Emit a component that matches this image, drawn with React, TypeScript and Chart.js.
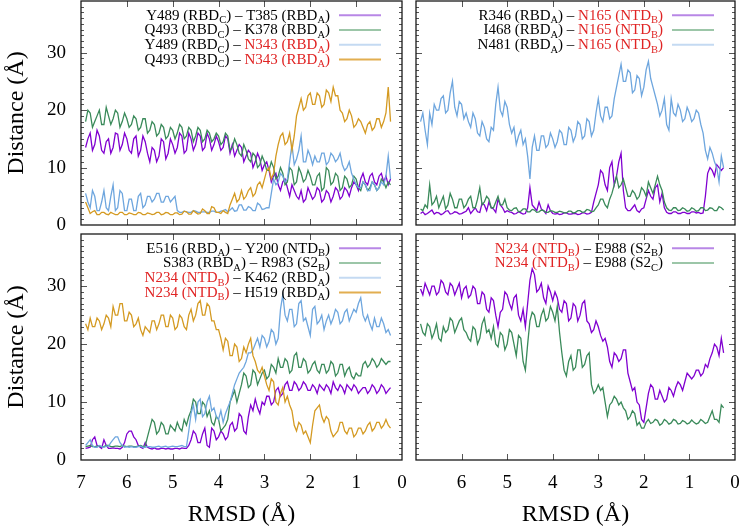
import React, { useEffect, useRef } from "react";
import { Chart, registerables } from "chart.js";
Chart.register(...registerables);

const SERIF = "'Liberation Serif', 'DejaVu Serif', serif";

// RMSD sample positions (Å)
const RMSD = [
  6.9, 6.85, 6.8, 6.75, 6.7, 6.65, 6.6, 6.55, 6.5, 6.45, 6.4, 6.35, 6.3, 6.25, 6.2, 6.15, 6.1, 6.05, 6.0, 5.95,
  5.9, 5.85, 5.8, 5.75, 5.7, 5.65, 5.6, 5.55, 5.5, 5.45, 5.4, 5.35, 5.3, 5.25, 5.2, 5.15, 5.1, 5.05, 5.0, 4.95,
  4.9, 4.85, 4.8, 4.75, 4.7, 4.65, 4.6, 4.55, 4.5, 4.45, 4.4, 4.35, 4.3, 4.25, 4.2, 4.15, 4.1, 4.05, 4.0, 3.95,
  3.9, 3.85, 3.8, 3.75, 3.7, 3.65, 3.6, 3.55, 3.5, 3.45, 3.4, 3.35, 3.3, 3.25, 3.2, 3.15, 3.1, 3.05, 3.0, 2.95,
  2.9, 2.85, 2.8, 2.75, 2.7, 2.65, 2.6, 2.55, 2.5, 2.45, 2.4, 2.35, 2.3, 2.25, 2.2, 2.15, 2.1, 2.05, 2.0, 1.95,
  1.9, 1.85, 1.8, 1.75, 1.7, 1.65, 1.6, 1.55, 1.5, 1.45, 1.4, 1.35, 1.3, 1.25, 1.2, 1.15, 1.1, 1.05, 1.0, 0.95,
  0.9, 0.85, 0.8, 0.75, 0.7, 0.65, 0.6, 0.55, 0.5, 0.45, 0.4, 0.35, 0.3, 0.25,
];

// Panel 1 (top-left)
const Y489_T385 = [
  13.5, 15, 16, 13, 14, 16.5, 15.5, 13, 12.5, 14.5, 15, 12.5, 13.5, 16, 15.8, 13, 14, 16, 15, 13,
  12.5, 15, 15.5, 12, 13, 15.5, 14.5, 12.5, 11, 13.5, 13, 11, 12, 15, 14.5, 11.5, 12.5, 15, 14, 12.5,
  13.5, 16, 15.5, 12.5, 13, 16, 15, 13, 14, 16, 15.5, 13, 13.5, 16, 15, 13, 14, 15.5, 14.5, 13,
  13.5, 15.5, 15, 12.5, 14, 12, 13, 14, 13.5, 11, 12, 13, 12.5, 10, 11, 12.5, 11.5, 9.5, 10.5, 11,
  9.5, 7.5, 8.5, 9, 7, 6, 7.5, 8, 6.5, 5, 7, 6, 5, 4.5, 6, 4, 4.5, 6.5, 5.5, 4.5,
  5, 6.5, 6, 4, 4.5, 6, 5.5, 4, 5, 6.5, 6, 4.5, 5, 6.5, 6, 5, 6.5, 7.5, 7, 6,
  8, 9, 7.5, 7, 8.5, 9, 7.5, 7, 8.5, 9, 7.5, 8.5, 7, 8,
];
const Q493_K378 = [
  18, 20, 19.5, 17, 18, 19, 20, 17.5, 17.5, 20.5, 19, 17.5, 18.5, 20, 19.5, 17, 18, 19.5, 18.5, 17,
  17.5, 19, 18.5, 16.5, 17, 18.5, 18.5, 16, 16.5, 18, 17.5, 15.5, 16, 17.5, 17, 15, 15.5, 17, 16.5, 15,
  16, 17.5, 17, 15, 15.5, 17, 16.5, 14.5, 15.5, 17, 16.5, 14.5, 15, 16.5, 16, 14.5, 15, 16, 15.5, 14,
  14.5, 16, 15.5, 13, 13.5, 15, 14, 12.5, 12, 14, 13, 11.5, 11, 12.5, 12, 10, 10.5, 12, 11, 9.5,
  9.5, 11, 10, 8, 8.5, 10, 9, 7, 7.5, 10, 9.5, 7, 7.5, 10, 9, 7.5, 8, 9.5, 8.5, 7,
  7, 8.5, 9, 6, 6.5, 10, 9.5, 7, 7.5, 9, 8.5, 6, 6.5, 8.5, 8, 6.5, 7, 8.5, 8, 6.5,
  6, 7.5, 7, 6, 6.5, 7.5, 7, 6, 6.5, 8, 7.5, 6.5, 7.5, 7,
];
const Y489_N343 = [
  5.5, 4, 3, 6, 5, 2.5, 2.5, 4, 6, 3, 2.5, 5, 7, 2.5, 3, 6, 5.5, 2.5, 2.5, 4.5,
  4.5, 2.5, 2.5, 5, 5.5, 3, 3.5, 5, 5, 4, 4.5, 5.5, 5.5, 4, 4, 5, 5, 4, 4.5, 5,
  2.5, 2.2, 2.2, 2.4, 2.3, 2.2, 2.2, 2.5, 2.4, 2.2, 2.2, 2.3, 2.3, 2.2, 2.2, 2.4, 2.4, 2.2, 2.2, 2.4,
  2.5, 2.7, 2.3, 2.6, 3, 2.4, 2.5, 3.5, 3.5, 2.6, 2.6, 3.2, 3, 2.5, 2.5, 3.8, 3.5, 2.7, 2.8, 3,
  3, 5.5, 8, 7, 7.5, 9, 8.5, 7.5, 8, 11, 14, 10.5, 11.5, 13, 15.5, 11, 11, 13, 12, 10.5,
  12, 11, 11, 12.5, 12.5, 10.5, 11, 12.5, 12, 11, 11.5, 12.5, 10.5, 9.5, 10, 11, 9, 8, 7, 6.5,
  6.5, 7.5, 7, 6, 6, 7.5, 7, 6, 6.5, 7.5, 7, 8.5, 12, 8,
];
const Q493_N343 = [
  4, 3, 2, 2.3, 2.5, 1.8, 1.8, 2.2, 2.2, 1.9, 1.8, 2.2, 2, 1.8, 1.8, 2.2, 2.2, 1.8, 1.8, 2.1,
  2, 1.8, 1.8, 2.2, 2.1, 1.8, 1.8, 2.1, 2, 1.8, 1.9, 2.2, 2.2, 1.8, 1.9, 2.2, 2.1, 1.8, 1.8, 2.1,
  2.1, 1.8, 1.9, 2.4, 2.3, 1.9, 1.9, 2.5, 2.2, 1.9, 2, 2.8, 2.5, 2, 2, 3.2, 3, 2.2, 2.2, 2,
  2.5, 2.2, 2, 3.5, 4.5, 5.5, 4, 4.5, 6, 4.5, 5, 6, 6.5, 5, 5.5, 7, 7.5, 6.5, 8, 9.5,
  10, 8, 9, 12, 14, 15.5, 16, 14, 14.5, 16, 13, 15.5, 19, 20.5, 22, 20, 20.5, 22.5, 23, 21,
  21, 23, 22.5, 20.5, 21, 23.5, 23, 21.5, 24, 22.5, 22.5, 20, 19.5, 18, 18.5, 20, 19, 17, 17.5, 18.5,
  18, 17, 16, 17.5, 18, 16.5, 17, 18.5, 18.5, 17, 18, 19.5, 24, 18,
];

// Panel 2 (top-right)
const R346_N165 = [
  2, 2.3, 1.8, 2, 2.3, 2.6, 1.9, 2.2, 2.1, 1.8, 2, 2.4, 2.5, 1.9, 2, 2.3, 2.2, 1.9, 2, 2.2,
  2.4, 3, 2, 2.5, 3, 2.3, 2.2, 3.8, 3.5, 2.5, 4, 3, 2.8, 2.2, 4.5, 3.5, 3, 2.2, 2.5, 2.3,
  2.2, 1.9, 2, 2.3, 2.1, 1.9, 2, 3, 6.5, 3.5, 3, 2.5, 4, 2.8, 2.5, 2, 3.5, 2.5, 2, 1.9,
  2, 1.8, 1.9, 2.1, 2.1, 1.9, 1.9, 2, 2, 1.8, 1.9, 2.1, 2.1, 1.9, 2, 2.2, 4, 5.5, 7, 9.5,
  9, 7, 6, 10, 11, 7, 8.5, 11, 12.5, 6, 3, 2.5, 2.5, 3, 3.5, 2.5, 2.2, 2.8, 3, 4.5,
  6, 5, 4.5, 6.5, 7, 4, 5.5, 3, 2.2, 2, 2, 2.3, 2.3, 2, 2, 2.2, 2.2, 2, 2, 2.3,
  2.3, 2.1, 2.2, 2, 2.1, 5, 9, 10, 9.5, 8.5, 10.5, 10, 9.5, 10,
];
const I468_N165 = [
  2.8, 2.5, 3.5, 3, 7, 3.5, 4, 5, 3, 4, 5, 2.8, 3.5, 5.5, 4.5, 3, 3, 4.5, 4.5, 3,
  3.5, 4.5, 5, 3, 3, 4.5, 6.5, 3.5, 4, 5, 4.5, 3, 3, 4, 5, 3.5, 3.5, 4.5, 3, 2.6,
  2.5, 2.9, 3, 2.3, 2.4, 2.8, 2.8, 2.3, 2.3, 2.7, 2.6, 2.2, 2.3, 2.6, 2.5, 2.2, 2.2, 2.5, 2.4, 2.2,
  2.2, 2.4, 2.3, 2.1, 2.1, 2.4, 2.4, 2.1, 2.2, 2.5, 2.5, 2.2, 2.3, 2.7, 2.6, 2.3, 2.4, 3, 3.5, 4.5,
  4.5, 3.5, 3, 4.5, 5.5, 7, 8.5, 6.5, 7, 8, 6.5, 5, 5, 6, 5.5, 4.5, 5, 6.5, 6, 5,
  7.5, 6.5, 5.5, 7, 8.5, 7, 6, 4, 3, 2.6, 2.5, 3, 3, 2.5, 2.6, 3, 2.8, 2.4, 2.5, 3,
  2.8, 2.4, 2.5, 3, 3, 2.5, 2.6, 3, 2.9, 2.5, 2.5, 3.2, 3, 2.6,
];
const N481_N165 = [
  18, 19.5, 16.5, 14, 19.5, 17.5, 21, 20, 20, 22, 22.5, 19.5, 20, 23, 25, 20.5, 19, 21.5, 21, 18.5,
  19.5, 18, 17, 19.5, 18.5, 16, 15.5, 18, 17, 15, 14.5, 17, 16.5, 21, 24, 20, 19, 21.5, 20.5, 17.5,
  16, 17, 14, 15.5, 16.5, 14, 15, 12, 8, 13.5, 15.5, 13, 13, 15.5, 15.5, 13.5, 14, 16, 15, 13.5,
  14.5, 16.5, 16, 14, 14, 17, 16.5, 14.5, 15.5, 18, 17.5, 15, 15.5, 18.5, 18, 15.5, 16.5, 19.5, 22, 19,
  18, 20.5, 20.5, 18.5, 19, 22, 24, 26, 28, 25, 25, 27, 26.5, 23, 23.5, 26, 25.5, 22.5, 24, 27,
  28.5, 25.5, 24, 22.5, 21, 19, 20, 22, 17.5, 16.5, 22, 19.5, 19, 21, 20, 18, 18.5, 20.5, 19.5, 18,
  18.5, 20, 19.5, 17.5, 16, 13, 11.5, 13.5, 12.5, 11, 10, 7.5, 12, 10,
];

// Panel 3 (bottom-left)
const E516_Y200 = [
  2, 2.1, 2.2, 3.5, 4, 2.5, 2.3, 2, 3.5, 2.5, 2, 2, 2.1, 2, 2, 1.9, 2.2, 3, 4.5, 5,
  5, 4, 3.5, 2.5, 2.2, 2, 3, 2.2, 2, 1.9, 2.1, 1.9, 1.9, 2, 2, 1.9, 2, 1.9, 1.9, 2,
  2, 1.9, 2.1, 2, 2, 2.5, 3.5, 5, 4.5, 3, 3, 4.5, 5.5, 2.5, 2.2, 5.5, 5, 3.5, 4, 5,
  4.5, 3.5, 4, 6, 6.5, 5, 5.5, 8, 7.5, 5, 4.5, 7.5, 9.5, 8.5, 10.5, 9, 8, 10, 9.5, 11,
  11, 9.5, 10, 12, 12.5, 11, 11.5, 13, 13.5, 12, 12, 13.5, 13, 12, 12.5, 13.5, 13, 12, 12, 13,
  12.5, 11.5, 13, 12.5, 12, 13, 12.5, 11.5, 13.5, 12.5, 12, 13, 12.5, 11.5, 13, 12.5, 12, 13, 12.5, 11.5,
  12, 12.5, 12.5, 11.5, 12, 13, 12.5, 11.5, 12, 13, 12.5, 11.5, 12, 12.5,
];
const S383_R983 = [
  2.3, 2.4, 2.5, 2.3, 2.3, 2.4, 2.4, 2.3, 2.3, 2.5, 2.5, 2.3, 2.3, 2.4, 2.4, 2.3, 2.5, 2.4, 2.3, 2.4,
  2.4, 2.3, 2.3, 2.4, 2.5, 2.3, 2.4, 4, 5.5, 7, 6.5, 4.5, 5, 6.5, 6, 4.5, 4.5, 6, 5.5, 5,
  6.5, 5.5, 5, 7, 6, 7.5, 8.5, 10.5, 10, 8, 8, 10, 9.5, 7.5, 8.5, 6.5, 6, 7.5, 7, 5,
  5.5, 6, 7, 10, 11, 12, 10, 11.5, 13, 15, 14.5, 12.5, 13, 15.5, 15, 13, 14, 15, 15.5, 14,
  14.5, 16.5, 16, 15, 17.5, 16, 16, 17.5, 17, 15, 15.5, 18, 18.5, 16, 16, 17.5, 17, 15, 15.5, 16.5,
  17, 15.5, 15, 16.5, 16.5, 15, 15.5, 17, 16.5, 14.5, 15, 16.5, 16.5, 14.5, 15.5, 16, 14.5, 14, 15, 14.5,
  14.5, 16.5, 17, 16, 16.5, 17.5, 17, 16, 16.5, 17.5, 17, 16.5, 17, 17,
];
const N234_K462 = [
  2.5, 3, 3.5, 2.5, 2.2, 2.2, 2.5, 2.3, 2.2, 2.4, 2.4, 3, 3.5, 4, 4, 3, 2.5, 2.2, 2.3, 2.2,
  2.3, 2.2, 2.2, 2.3, 2.4, 2.2, 2.2, 2.3, 2.3, 2.2, 2.2, 2.3, 2.4, 2.2, 2.3, 2.4, 2.2, 2.3, 2.4, 2.3,
  2.3, 2.4, 2.5, 2.3, 2.3, 5, 8, 9.5, 7, 10, 10.5, 7.5, 8, 10, 11, 8.5, 9, 7.5, 7, 8.5,
  6.5, 8, 9, 10, 11.5, 13, 14, 15, 15.5, 16, 17, 18.5, 18.5, 19, 20, 21, 19.5, 21.5, 21, 19.5,
  20.5, 22.5, 22, 20, 21, 26, 28.5, 25, 24, 26, 26, 23, 23.5, 27, 27.5, 24, 24.5, 23, 21.5, 26,
  26.5, 23.5, 24, 25, 22.5, 24, 25, 23.5, 24.5, 26, 25.5, 23.5, 24, 25.5, 26, 24, 25, 26, 25.5, 27,
  28, 25, 24, 25, 23.5, 22.5, 24.5, 23, 23, 24.5, 23.5, 22, 22.5, 21.5,
];
const N234_H519 = [
  23.5, 22.5, 24.5, 23, 23, 24.5, 24, 22.5, 23.5, 25, 24.5, 23, 26.5, 25, 25, 27, 27, 24, 24, 25.5,
  25, 23, 23.5, 24.5, 22.5, 21.5, 23, 22.5, 22, 24, 24, 22.5, 23.5, 25, 25, 23, 23, 25, 24.5, 22.5,
  23, 25, 24.5, 23, 22.5, 25, 26, 24, 25, 27, 27.5, 25, 25, 27, 26.5, 24, 24, 22.5, 22.5, 21,
  19, 21, 20.5, 18, 18, 20, 19.5, 17, 17.5, 19.5, 18.5, 20, 21, 18, 17, 15.5, 15, 16, 14.5, 13,
  12, 14, 13.5, 10, 9.5, 11.5, 12.5, 10, 11, 9.5, 8.5, 6, 5, 6.5, 6, 4.5, 5, 4, 3, 6,
  8.5, 9, 9.5, 7.5, 6.5, 7.5, 7, 5, 4, 4.5, 5, 6.5, 6.5, 5, 4.5, 5.5, 5.5, 4, 4.5, 5.5,
  5.5, 4.5, 5, 6, 6.5, 5, 5.5, 6.5, 6.5, 5.5, 6, 7, 6, 5.5,
];

// Panel 4 (bottom-right)
const N234_E988B = [
  29.5, 28.5, 30.5, 29.5, 28.5, 30, 30, 28.5, 29, 31, 30.5, 29, 28.5, 30.5, 30, 28.5, 29.5, 30.5, 28, 29.5,
  30, 28, 28.5, 30, 29.5, 27, 27, 29, 28.5, 26, 25.5, 28, 27.5, 25, 23, 25.5, 26, 29, 28.5, 27,
  26, 28, 28.5, 25, 24, 26, 23, 27, 31, 33, 32, 29, 29.5, 30.5, 28, 27, 30, 29, 27.5, 29,
  28, 26, 25.5, 27.5, 27, 24, 24.5, 27, 26.5, 24, 25, 27, 27.5, 24, 23.5, 22, 22.5, 24, 23, 21.5,
  20.5, 21, 19.5, 17, 16, 18.5, 18, 17, 17.5, 19, 19, 15, 13.5, 12, 12.5, 10, 9.5, 7, 6.5, 9,
  11.5, 13, 12.5, 10.5, 10.5, 12, 11, 10, 10.5, 12.5, 12, 11, 12.5, 13.5, 13, 12, 13.5, 15, 14.5, 14,
  14.5, 15.5, 15.5, 14.5, 15, 16.5, 16, 17.5, 18.5, 20, 19.5, 18, 21, 18.5,
];
const N234_E988C = [
  23.5, 22, 21.5, 23.5, 23, 21, 22, 23.5, 21, 20.5, 23, 22, 22.5, 24.5, 24, 22, 23, 24, 24.5, 22.5,
  22, 21, 20.5, 23, 22.5, 20, 21, 23.5, 24.5, 22, 22.5, 21, 23, 20, 19.5, 22, 21.5, 19, 20, 22.5,
  22, 20, 18, 21.5, 21, 17, 15.5, 20, 24, 25.5, 25, 23, 23, 25, 26, 24, 24.5, 26.5, 25.5, 24,
  26.5, 22, 18.5, 15.5, 14.5, 17, 18, 15.5, 16, 19, 19, 16, 16.5, 18, 18.5, 13, 11.5, 12, 13, 12,
  12.5, 10, 7.5, 9.5, 10, 11, 10.5, 9.5, 10, 9, 8.5, 7, 7.5, 8.5, 8, 6, 6.5, 5.5, 5.5, 6.5,
  7, 6.3, 6.5, 7, 6.8, 6, 6.3, 7, 6.7, 6.2, 6.4, 7, 6.8, 6.2, 6.3, 6.8, 6.6, 6.2, 6.4, 6.9,
  6.5, 6.2, 6.4, 7, 6.7, 6.3, 6.5, 7.5, 8.5, 7, 7, 6.5, 9.5, 9,
];

// Axis ranges / titles
const X_MIN = 0;
const X_MAX = 7;
const Y_MIN = 0;
const Y_MAX = 39;
const X_AXIS_TITLE = "RMSD (Å)";
const Y_AXIS_TITLE = "Distance (Å)";

// colours
const PURPLE = "#8000d0";
const GREEN = "#3a8a5a";
const BLUE = "#6ea6de";
const ORANGE = "#d49a22";
const PURPLE_L = "#b887e6";
const GREEN_L = "#9cc6a8";
const BLUE_L = "#c4daf2";
const ORANGE_L = "#e2ae50";
const RED = "#e02424";

type Seg = { t: string; sub?: boolean; red?: boolean };
const S = (t: string, sub = false, red = false): Seg => ({ t, sub, red });

// Legend labels
const LEG1: Seg[][] = [
  [S("Y489 (RBD"), S("C", true), S(") – T385 (RBD"), S("A", true), S(")")],
  [S("Q493 (RBD"), S("C", true), S(") – K378 (RBD"), S("A", true), S(")")],
  [S("Y489 (RBD"), S("C", true), S(") – "), S("N343 (RBD", false, true), S("A", true, true), S(")", false, true)],
  [S("Q493 (RBD"), S("C", true), S(") – "), S("N343 (RBD", false, true), S("A", true, true), S(")", false, true)],
];
const LEG2: Seg[][] = [
  [S("R346 (RBD"), S("A", true), S(") – "), S("N165 (NTD", false, true), S("B", true, true), S(")", false, true)],
  [S("I468 (RBD"), S("A", true), S(") – "), S("N165 (NTD", false, true), S("B", true, true), S(")", false, true)],
  [S("N481 (RBD"), S("A", true), S(") – "), S("N165 (NTD", false, true), S("B", true, true), S(")", false, true)],
];
const LEG3: Seg[][] = [
  [S("E516 (RBD"), S("A", true), S(") – Y200 (NTD"), S("B", true), S(")")],
  [S("S383 (RBD"), S("A", true), S(") – R983 (S2"), S("B", true), S(")")],
  [S("N234 (NTD", false, true), S("B", true, true), S(")", false, true), S(" – K462 (RBD"), S("A", true), S(")")],
  [S("N234 (NTD", false, true), S("B", true, true), S(")", false, true), S(" – H519 (RBD"), S("A", true), S(")")],
];
const LEG4: Seg[][] = [
  [S("N234 (NTD", false, true), S("B", true, true), S(")", false, true), S(" – E988 (S2"), S("B", true), S(")")],
  [S("N234 (NTD", false, true), S("B", true, true), S(")", false, true), S(" – E988 (S2"), S("C", true), S(")")],
];

type Series = { values: number[]; color: string; legendColor: string; label: Seg[] };
type PanelCfg = {
  id: string;
  series: Series[];
  pad: { left: number; top: number; right: number; bottom: number };
  showY: boolean;
  showX: boolean;
  skip7: boolean;
};

const PANELS: PanelCfg[] = [
  {
    id: "p1",
    series: [
      { values: Y489_T385, color: PURPLE, legendColor: PURPLE_L, label: LEG1[0] },
      { values: Q493_K378, color: GREEN, legendColor: GREEN_L, label: LEG1[1] },
      { values: Y489_N343, color: BLUE, legendColor: BLUE_L, label: LEG1[2] },
      { values: Q493_N343, color: ORANGE, legendColor: ORANGE_L, label: LEG1[3] },
    ],
    pad: { left: 0, top: 1, right: 339, bottom: 301 },
    showY: true,
    showX: false,
    skip7: false,
  },
  {
    id: "p2",
    series: [
      { values: R346_N165, color: PURPLE, legendColor: PURPLE_L, label: LEG2[0] },
      { values: I468_N165, color: GREEN, legendColor: GREEN_L, label: LEG2[1] },
      { values: N481_N165, color: BLUE, legendColor: BLUE_L, label: LEG2[2] },
    ],
    pad: { left: 416, top: 1, right: 6, bottom: 301 },
    showY: false,
    showX: false,
    skip7: true,
  },
  {
    id: "p3",
    series: [
      { values: E516_Y200, color: PURPLE, legendColor: PURPLE_L, label: LEG3[0] },
      { values: S383_R983, color: GREEN, legendColor: GREEN_L, label: LEG3[1] },
      { values: N234_K462, color: BLUE, legendColor: BLUE_L, label: LEG3[2] },
      { values: N234_H519, color: ORANGE, legendColor: ORANGE_L, label: LEG3[3] },
    ],
    pad: { left: 0, top: 234, right: 339, bottom: 0 },
    showY: true,
    showX: true,
    skip7: false,
  },
  {
    id: "p4",
    series: [
      { values: N234_E988B, color: PURPLE, legendColor: PURPLE_L, label: LEG4[0] },
      { values: N234_E988C, color: GREEN, legendColor: GREEN_L, label: LEG4[1] },
    ],
    pad: { left: 416, top: 234, right: 6, bottom: 0 },
    showY: false,
    showX: true,
    skip7: true,
  },
];

const LEG_FONT = `15px ${SERIF}`;
const LEG_SUB_FONT = `10.5px ${SERIF}`;

function drawFrame(chart: any) {
  const { ctx, chartArea: a, scales } = chart;
  const x = scales.x;
  const y = scales.y;
  ctx.save();
  ctx.strokeStyle = "#555";
  ctx.lineWidth = 1;
  ctx.beginPath();
  for (let v = Y_MIN + 1; v < Y_MAX; v++) {
    const py = Math.round(y.getPixelForValue(v)) + 0.5;
    const len = v % 10 === 0 ? 6 : 3;
    ctx.moveTo(a.left, py);
    ctx.lineTo(a.left + len, py);
    ctx.moveTo(a.right, py);
    ctx.lineTo(a.right - len, py);
  }
  for (let v = X_MIN + 1; v < X_MAX; v++) {
    const px = Math.round(x.getPixelForValue(v)) + 0.5;
    ctx.moveTo(px, a.top);
    ctx.lineTo(px, a.top + 6);
    ctx.moveTo(px, a.bottom);
    ctx.lineTo(px, a.bottom - 6);
  }
  ctx.stroke();
  ctx.strokeStyle = "#1a1a1a";
  ctx.lineWidth = 1.3;
  ctx.strokeRect(a.left, a.top, a.right - a.left, a.bottom - a.top);
  ctx.restore();
}

function drawLegend(chart: any, p: PanelCfg) {
  const { ctx, chartArea: a } = chart;
  ctx.save();
  ctx.textBaseline = "alphabetic";
  ctx.textAlign = "left";
  p.series.forEach((s, i) => {
    const cy = a.top + 13.5 + i * 14.8;
    const textRight = a.right - 72;
    let w = 0;
    for (const seg of s.label) {
      ctx.font = seg.sub ? LEG_SUB_FONT : LEG_FONT;
      w += ctx.measureText(seg.t).width;
    }
    let cx = textRight - w;
    for (const seg of s.label) {
      ctx.font = seg.sub ? LEG_SUB_FONT : LEG_FONT;
      ctx.fillStyle = seg.red ? RED : "#000";
      ctx.fillText(seg.t, cx, cy + 5 + (seg.sub ? 3.5 : 0));
      cx += ctx.measureText(seg.t).width;
    }
    ctx.strokeStyle = s.legendColor;
    ctx.lineWidth = 2;
    ctx.beginPath();
    ctx.moveTo(a.right - 63, cy + 0.7);
    ctx.lineTo(a.right - 21, cy + 0.7);
    ctx.stroke();
  });
  ctx.restore();
}

function makePlugin(p: PanelCfg) {
  return {
    id: "frame_" + p.id,
    afterDraw(chart: any) {
      drawFrame(chart);
      drawLegend(chart, p);
    },
  };
}

function buildConfig(p: PanelCfg): any {
  const n = p.series.length;
  return {
    type: "line",
    data: {
      datasets: p.series.map((s, i) => ({
        data: RMSD.map((r, k) => ({ x: r, y: s.values[k] })),
        borderColor: s.color,
        backgroundColor: s.color,
        borderWidth: 1.3,
        pointRadius: 0,
        tension: 0,
        fill: false,
        order: n - i,
      })),
    },
    options: {
      animation: false,
      responsive: false,
      events: [],
      layout: { padding: p.pad },
      plugins: { legend: { display: false }, tooltip: { enabled: false } },
      scales: {
        x: {
          type: "linear",
          min: X_MIN,
          max: X_MAX,
          reverse: true,
          display: p.showX,
          ticks: {
            stepSize: 1,
            autoSkip: false,
            maxRotation: 0,
            color: "#000",
            padding: 12,
            font: { family: SERIF, size: 19 },
            callback: (v: number) => (p.skip7 && v === X_MAX ? "" : String(v)),
          },
          grid: { display: false, drawTicks: false },
          border: { display: false },
          title: {
            display: true,
            text: X_AXIS_TITLE,
            color: "#000",
            font: { family: SERIF, size: 24 },
            padding: { top: 0, bottom: -3 },
          },
          afterFit: (s: any) => {
            s.height = p.showX ? 66 : 0;
            s.paddingLeft = 0;
            s.paddingRight = 0;
          },
        },
        y: {
          type: "linear",
          min: Y_MIN,
          max: Y_MAX,
          display: p.showY,
          ticks: {
            stepSize: 10,
            includeBounds: false,
            color: "#000",
            padding: 15,
            font: { family: SERIF, size: 19 },
          },
          grid: { display: false, drawTicks: false },
          border: { display: false },
          title: {
            display: true,
            text: Y_AXIS_TITLE,
            color: "#000",
            font: { family: SERIF, size: 24 },
            padding: { top: 2, bottom: 0 },
          },
          afterFit: (s: any) => {
            s.width = p.showY ? 81 : 0;
            s.paddingTop = 0;
            s.paddingBottom = 0;
          },
        },
      },
    },
    plugins: [makePlugin(p)],
  };
}

function Panel({ cfg }: { cfg: PanelCfg }) {
  const ref = useRef<HTMLCanvasElement>(null);
  useEffect(() => {
    const chart = new Chart(ref.current as HTMLCanvasElement, buildConfig(cfg));
    return () => chart.destroy();
  }, [cfg]);
  return (
    <canvas
      ref={ref}
      width={741}
      height={526}
      style={{ position: "absolute", left: 0, top: 0, width: 741, height: 526 }}
    />
  );
}

export default function App() {
  return (
    <div style={{ position: "absolute", left: 0, top: 0, width: 741, height: 526, background: "#fff" }}>
      {PANELS.map((p) => (
        <Panel key={p.id} cfg={p} />
      ))}
    </div>
  );
}
